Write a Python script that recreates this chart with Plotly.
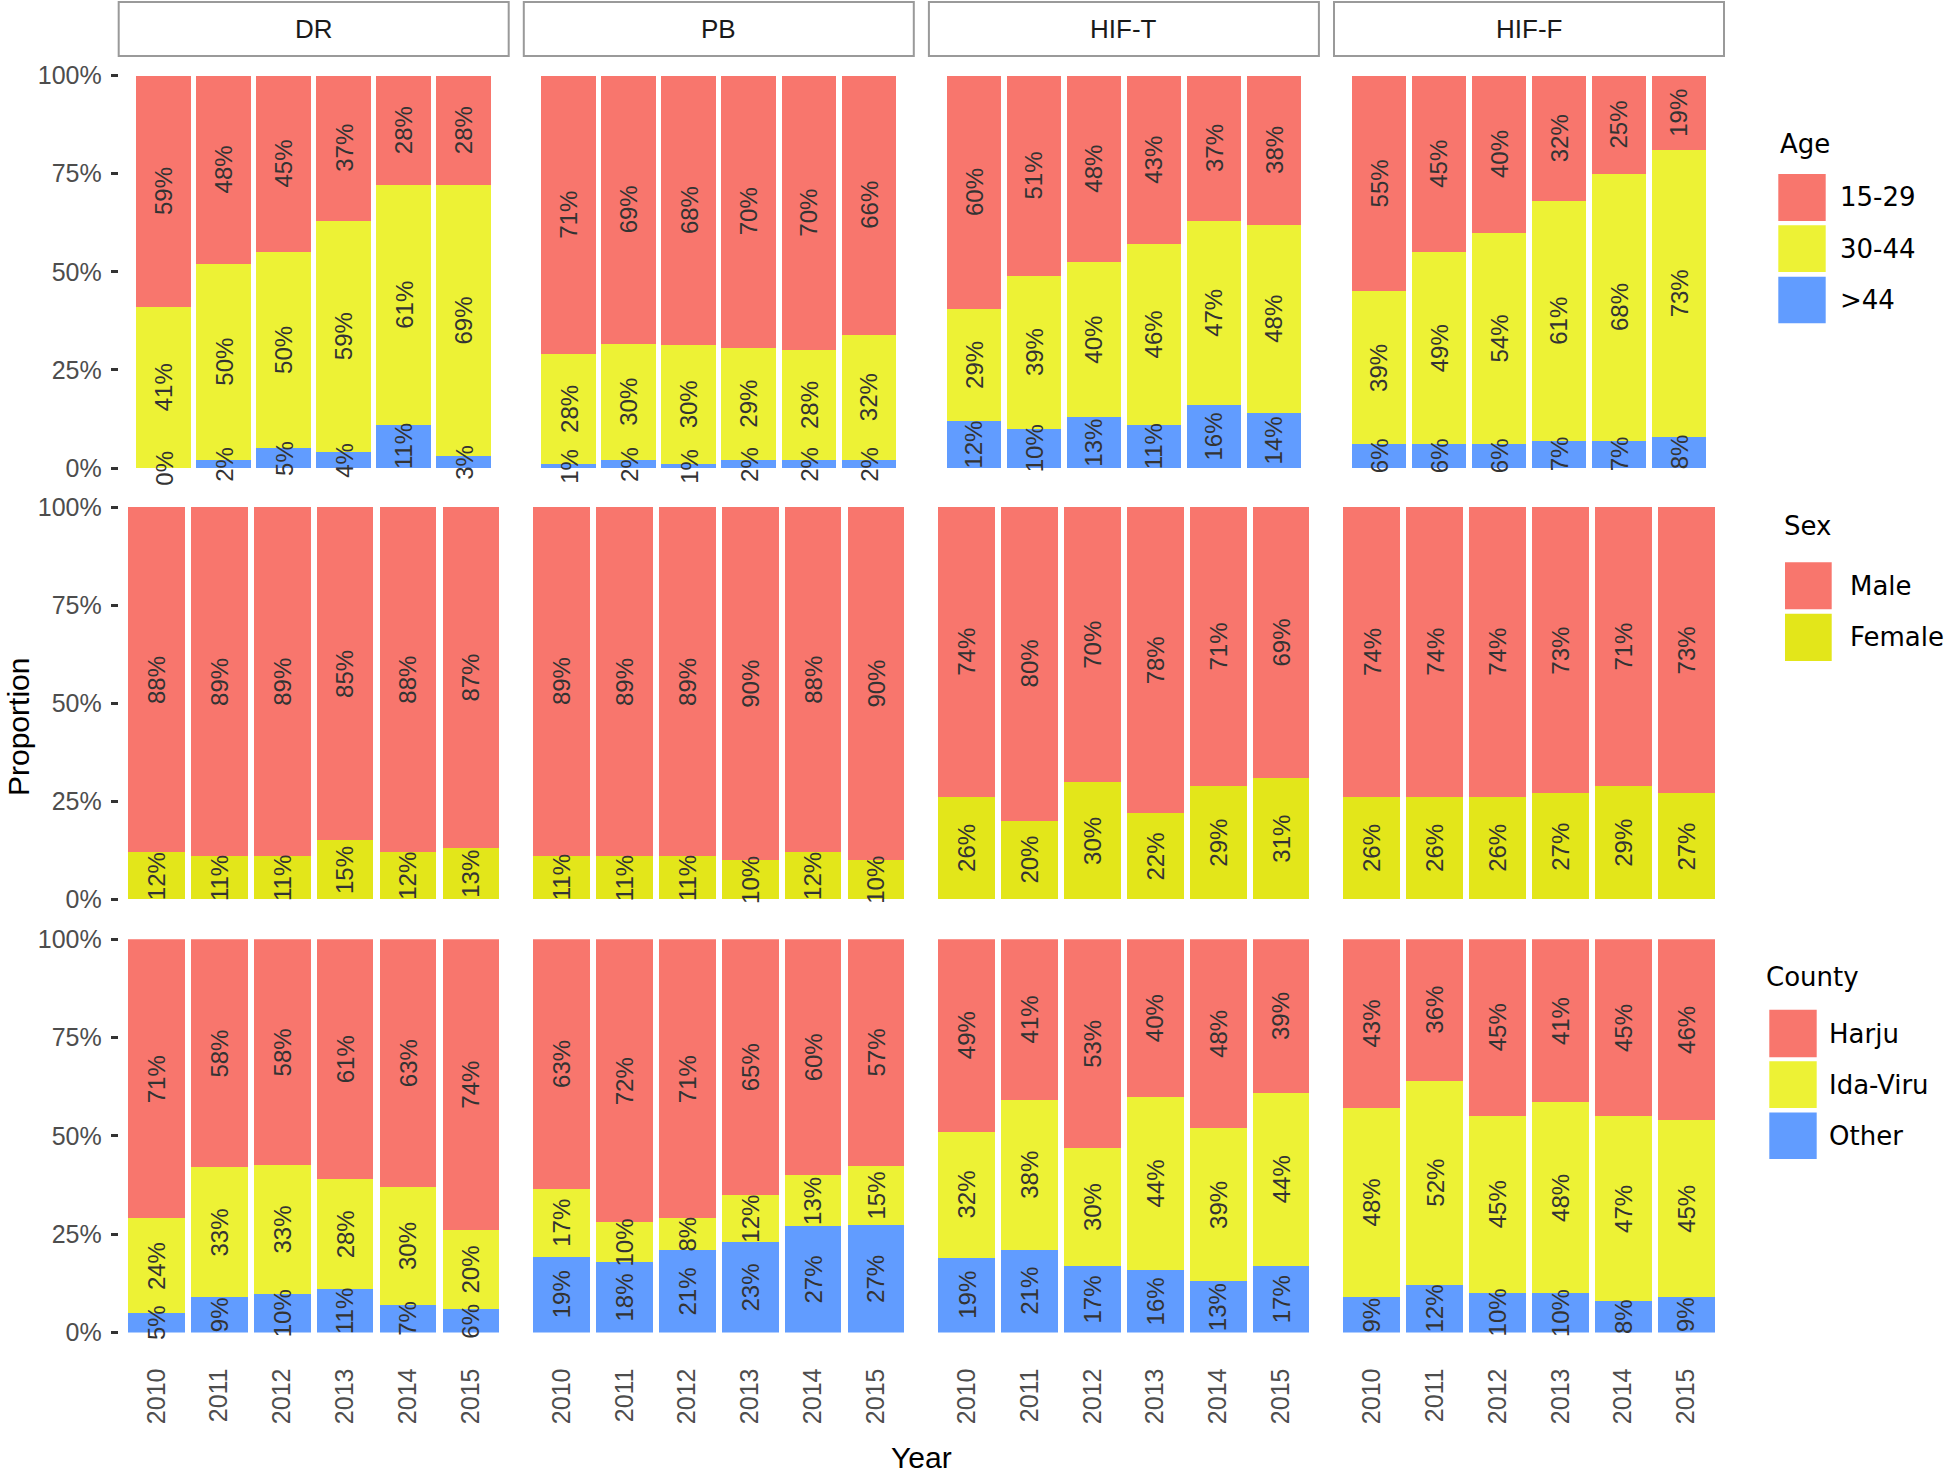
import plotly.graph_objects as go

W, H = 1946, 1479

years = ["2010", "2011", "2012", "2013", "2014", "2015"]
methods = ["DR", "PB", "HIF-T", "HIF-F"]

# ---- Age (percent labels as read) ----
age_gt44 = {"DR": [0, 2, 5, 4, 11, 3], "PB": [1, 2, 1, 2, 2, 2],
            "HIF-T": [12, 10, 13, 11, 16, 14], "HIF-F": [6, 6, 6, 7, 7, 8]}
age_30_44 = {"DR": [41, 50, 50, 59, 61, 69], "PB": [28, 30, 30, 29, 28, 32],
             "HIF-T": [29, 39, 40, 46, 47, 48], "HIF-F": [39, 49, 54, 61, 68, 73]}
age_15_29 = {"DR": [59, 48, 45, 37, 28, 28], "PB": [71, 69, 68, 70, 70, 66],
             "HIF-T": [60, 51, 48, 43, 37, 38], "HIF-F": [55, 45, 40, 32, 25, 19]}

# ---- Sex ----
sex_female = {"DR": [12, 11, 11, 15, 12, 13], "PB": [11, 11, 11, 10, 12, 10],
              "HIF-T": [26, 20, 30, 22, 29, 31], "HIF-F": [26, 26, 26, 27, 29, 27]}
sex_male = {"DR": [88, 89, 89, 85, 88, 87], "PB": [89, 89, 89, 90, 88, 90],
            "HIF-T": [74, 80, 70, 78, 71, 69], "HIF-F": [74, 74, 74, 73, 71, 73]}

# ---- County ----
county_other = {"DR": [5, 9, 10, 11, 7, 6], "PB": [19, 18, 21, 23, 27, 27],
                "HIF-T": [19, 21, 17, 16, 13, 17], "HIF-F": [9, 12, 10, 10, 8, 9]}
county_idaviru = {"DR": [24, 33, 33, 28, 30, 20], "PB": [17, 10, 8, 12, 13, 15],
                  "HIF-T": [32, 38, 30, 44, 39, 44], "HIF-F": [48, 52, 45, 48, 47, 45]}
county_harju = {"DR": [71, 58, 58, 61, 63, 74], "PB": [63, 72, 71, 65, 60, 57],
                "HIF-T": [49, 41, 53, 40, 48, 39], "HIF-F": [43, 36, 45, 41, 45, 46]}

RED = "#F8766D"
YELLOW = "#EDF235"
BLUE = "#619CFF"
FEMALE = "#E3E61A"

rows = [
    {"title": "Age",
     "cats": [(">44", age_gt44, BLUE), ("30-44", age_30_44, YELLOW), ("15-29", age_15_29, RED)],
     "xr": [-0.75, 5.75], "width": 0.91},
    {"title": "Sex",
     "cats": [("Female", sex_female, FEMALE), ("Male", sex_male, RED)],
     "xr": [-0.6, 5.6], "width": 0.9},
    {"title": "County",
     "cats": [("Other", county_other, BLUE), ("Ida-Viru", county_idaviru, YELLOW), ("Harju", county_harju, RED)],
     "xr": [-0.6, 5.6], "width": 0.9},
]

PANEL_LEFT, PANEL_W, PANEL_STEP = 118.7, 390.0, 405.1
ROW_Y0 = [468.0, 899.3, 1332.5]   # pixel of value 0
ROW_Y1 = [75.5, 507.0, 939.2]     # pixel of value 1

SANS = "Liberation Sans, Arial, sans-serif"
LEG = "DejaVu Sans, sans-serif"


def fx(p):
    return p / W


def fy(p):
    return 1 - p / H


fig = go.Figure()
layout = {}
annotations = []
shapes = []

for r, row in enumerate(rows):
    for c, m in enumerate(methods):
        i = r * 4 + c + 1
        xa = "x" if i == 1 else f"x{i}"
        ya = "y" if i == 1 else f"y{i}"
        for name, data, col in row["cats"]:
            fig.add_trace(go.Bar(
                x=years, y=data[m], name=name, width=row["width"],
                marker=dict(color=col, line=dict(width=0)),
                xaxis=xa, yaxis=ya, showlegend=False))
        for j, yr in enumerate(years):
            vals = [d[m][j] for _, d, _ in row["cats"]]
            tot = sum(vals)
            cum = 0
            for v in vals:
                center = (cum + v / 2) / tot
                cum += v
                annotations.append(dict(
                    x=j, y=center, xref=xa, yref=ya, text=f"{v}%",
                    textangle=-90, showarrow=False,
                    xanchor="center", yanchor="middle",
                    font=dict(family=SANS, size=24, color="#333333")))
        x0 = PANEL_LEFT + c * PANEL_STEP
        x1 = x0 + PANEL_W
        xkey = "xaxis" if i == 1 else f"xaxis{i}"
        ykey = "yaxis" if i == 1 else f"yaxis{i}"
        layout[xkey] = dict(
            domain=[fx(x0), fx(x1)], anchor=ya, type="category",
            categoryorder="array", categoryarray=years,
            range=row["xr"], showgrid=False, zeroline=False, showline=False,
            automargin=False,
            ticks="", showticklabels=(r == 2), tickangle=-90,
            tickfont=dict(family=SANS, size=25, color="#4D4D4D"),
            ticklabelstandoff=30)
        layout[ykey] = dict(
            domain=[fy(ROW_Y0[r]), fy(ROW_Y1[r])], anchor=xa, range=[0, 1],
            showgrid=False, zeroline=False, showline=False, automargin=False,
            tickvals=[0, 0.25, 0.5, 0.75, 1], tickformat=".0%",
            ticks="outside" if c == 0 else "", ticklen=7, tickwidth=3,
            tickcolor="#333333", showticklabels=(c == 0),
            tickfont=dict(family=SANS, size=25, color="#4D4D4D"),
            ticklabelstandoff=4)
        # facet strips on top row
        if r == 0:
            shapes.append(dict(type="rect", xref="paper", yref="paper",
                               x0=fx(x0), x1=fx(x1), y0=fy(56), y1=fy(2),
                               fillcolor="white", line=dict(color="#9A9A9A", width=2)))
            annotations.append(dict(x=fx((x0 + x1) / 2), y=fy(29), xref="paper", yref="paper",
                                    text=m, showarrow=False, xanchor="center", yanchor="middle",
                                    font=dict(family=SANS, size=26, color="#1A1A1A")))

# ---- legends drawn as keys + labels ----
legend_specs = [
    ("Age", (1778.3, 143.5), (1778.3, 1825.7), 1837.7,
     [("15-29", RED, 174, 221), ("30-44", YELLOW, 225.3, 272), (">44", BLUE, 276.7, 323.3)]),
    ("Sex", (1781.7, 526), (1785, 1831.7), 1847.5,
     [("Male", RED, 562.3, 609.3), ("Female", FEMALE, 613.7, 661)]),
    ("County", (1764.3, 977), (1769.3, 1816.7), 1827.3,
     [("Harju", RED, 1009.8, 1057.3), ("Ida-Viru", YELLOW, 1061.2, 1107.9), ("Other", BLUE, 1112.5, 1158.9)]),
]
for title, (tx, ty), (kx0, kx1), lx, items in legend_specs:
    annotations.append(dict(x=fx(tx), y=fy(ty), xref="paper", yref="paper", text=title,
                            showarrow=False, xanchor="left", yanchor="middle",
                            font=dict(family=LEG, size=26, color="black")))
    for lab, col, ky0, ky1 in items:
        shapes.append(dict(type="rect", xref="paper", yref="paper",
                           x0=fx(kx0), x1=fx(kx1), y0=fy(ky1), y1=fy(ky0),
                           fillcolor=col, line=dict(width=0)))
        annotations.append(dict(x=fx(lx), y=fy((ky0 + ky1) / 2), xref="paper", yref="paper",
                                text=lab, showarrow=False, xanchor="left", yanchor="middle",
                                font=dict(family=LEG, size=26, color="black")))

# axis titles
annotations.append(dict(x=fx(18), y=fy(727), xref="paper", yref="paper", text="Proportion",
                        textangle=-90, showarrow=False, xanchor="center", yanchor="middle",
                        font=dict(family=SANS, size=30, color="black")))
annotations.append(dict(x=fx(921), y=fy(1457), xref="paper", yref="paper", text="Year",
                        showarrow=False, xanchor="center", yanchor="middle",
                        font=dict(family=SANS, size=30, color="black")))

fig.update_layout(
    template="none",
    width=W, height=H, autosize=False,
    margin=dict(l=0, r=0, t=0, b=0, pad=0),
    paper_bgcolor="white", plot_bgcolor="white",
    barmode="stack", barnorm="fraction", showlegend=False,
    annotations=annotations, shapes=shapes,
    **layout)

fig.write_html(
    "out.html",
    config={"displayModeBar": False},
    post_script="document.body.style.margin='0px';document.body.style.overflow='hidden';")
